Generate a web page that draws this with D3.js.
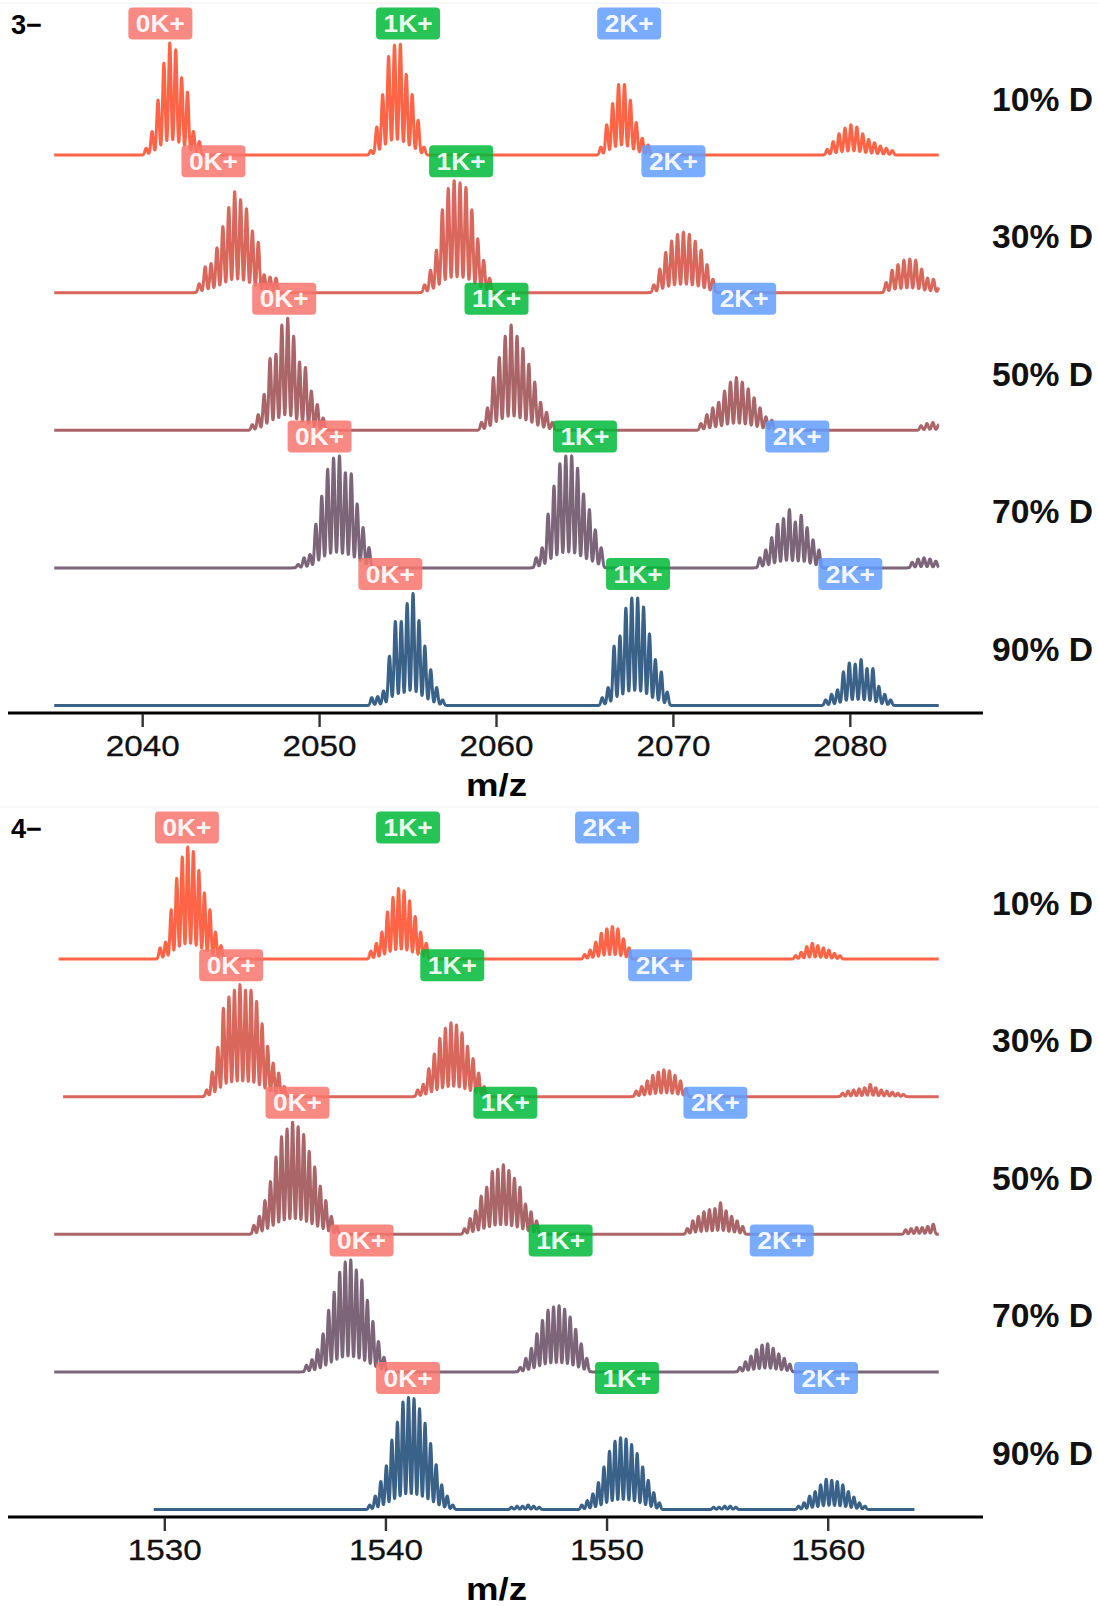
<!DOCTYPE html>
<html>
<head>
<meta charset="utf-8">
<script src="https://cdn.jsdelivr.net/npm/d3@7"></script>
<style>
  body { margin: 0; background: #fff; }
  svg { display: block; font-family: "Liberation Sans", Arial, sans-serif; }
</style>
</head>
<body>
<svg id="chart" width="1099" height="1606"></svg>
<script>
// deuteration levels, one trace per level
const levels = ["10% D", "30% D", "50% D", "70% D", "90% D"];
const traceColors = ["#FF6446", "#D9675B", "#AA6569", "#7C6579", "#3A6289"];

const adducts = ["0K+", "1K+", "2K+"];
const adductColors = ["#F8766D", "#00BA38", "#619CFF"];

// 3- charge state
const ticks3 = [2040, 2050, 2060, 2070, 2080];
const spectrumRange3 = [[2035, 2085], [2035, 2085], [2035, 2085], [2035, 2085], [2035, 2085]];
const labelPos3 = [
  [2041, 2055, 2067.5],
  [2044, 2058, 2070],
  [2048, 2060, 2074],
  [2050, 2065, 2077],
  [2054, 2068, 2080]
];
// isotope clusters per level: [first m/z, relative stick intensities (%)]
const peaks3 = [
  [[2040.2, [6, 21, 49, 82, 100, 94, 69, 56, 21, 12]],
   [2052.9, [4, 25, 54, 88, 98, 99, 72, 54, 31, 7]],
   [2065.9, [7, 27, 46, 63, 63, 49, 29, 15, 9]],
   [2078.7, [5, 12, 19, 24, 27, 25, 19, 14, 11, 8, 6, 4]]],
  [[2043.2, [8, 23, 26, 40, 59, 76, 90, 83, 75, 55, 45, 16, 14, 13]],
   [2055.94, [7, 20, 38, 74, 93, 100, 98, 94, 74, 48, 29, 13]],
   [2068.9, [7, 21, 36, 46, 52, 54, 52, 46, 38, 25, 12]],
   [2082.03, [9, 20, 25, 29, 30, 29, 21, 13, 12, 5]]],
  [[2046.2, [5, 14, 32, 64, 68, 94, 100, 84, 61, 56, 35, 23, 11]],
   [2059.16, [7, 20, 47, 65, 84, 94, 84, 73, 59, 43, 25, 16, 7]],
   [2071.56, [6, 14, 20, 25, 35, 43, 47, 43, 37, 29, 20, 12, 9]],
   [2084.0, [4, 6, 7, 5]]],
  [[2048.79, [3, 9, 12, 39, 64, 88, 98, 100, 85, 84, 57, 36, 18]],
   [2062.25, [9, 18, 48, 73, 93, 100, 100, 89, 66, 52, 34, 18]],
   [2074.89, [9, 16, 27, 39, 44, 52, 41, 47, 36, 25, 16]],
   [2083.5, [5, 8, 9, 8, 6]]],
  [[2052.95, [7, 8, 13, 44, 75, 75, 91, 100, 76, 53, 32, 16, 5]],
   [2065.98, [7, 16, 53, 62, 87, 96, 96, 88, 64, 41, 30, 12]],
   [2078.61, [5, 10, 14, 30, 38, 37, 41, 33, 33, 17, 10, 5]]]
];

// 4- charge state
const ticks4 = [1530, 1540, 1550, 1560];
const spectrumRange4 = [[1525.2, 1565], [1525.4, 1565], [1525, 1565], [1525, 1565], [1529.5, 1563.9]];
const labelPos4 = [
  [1531, 1541, 1550],
  [1533, 1543, 1552.4],
  [1536, 1545.4, 1554.9],
  [1538.9, 1547.9, 1557.9],
  [1541, 1550.9, 1559.9]
];
const peaks4 = [
  [[1529.79, [10, 15, 44, 72, 91, 100, 96, 79, 59, 44, 24, 12]],
   [1539.32, [7, 14, 24, 42, 55, 63, 61, 52, 38, 24, 14]],
   [1548.99, [4, 8, 15, 23, 27, 29, 27, 18, 10]],
   [1558.53, [3, 6, 11, 14, 12, 10, 8, 5, 3]]],
  [[1531.9, [6, 22, 44, 79, 89, 95, 100, 95, 95, 85, 65, 45, 30, 21, 9]],
   [1541.44, [6, 11, 25, 38, 52, 61, 66, 64, 57, 45, 34, 21, 9]],
   [1551.32, [5, 9, 14, 19, 22, 24, 23, 19, 14, 7]],
   [1560.65, [3, 5, 6, 7, 8, 11, 8, 6, 5, 4, 3, 2]]],
  [[1534.03, [8, 16, 30, 47, 69, 87, 94, 100, 96, 89, 74, 60, 43, 30, 16, 7]],
   [1543.56, [5, 14, 21, 34, 42, 56, 58, 62, 57, 50, 42, 27, 20, 12]],
   [1553.63, [5, 12, 16, 20, 22, 23, 28, 21, 16, 12, 7]],
   [1563.5, [4, 5, 6, 6, 7, 9]]],
  [[1536.41, [6, 11, 20, 34, 55, 71, 89, 98, 100, 91, 82, 64, 45, 27, 13]],
   [1546.08, [4, 12, 21, 34, 46, 55, 58, 59, 56, 49, 38, 25, 12]],
   [1556.01, [4, 9, 14, 20, 24, 25, 21, 16, 12, 7]]],
  [[1539.27, [4, 12, 25, 39, 62, 78, 96, 100, 99, 90, 77, 59, 40, 22, 12, 4]],
   [1545.68, [2, 3, 3, 4, 3, 2]],
   [1548.86, [4, 8, 14, 24, 38, 52, 61, 64, 63, 58, 50, 38, 26, 15, 6]],
   [1554.82, [2, 2, 3, 3, 2]],
   [1558.66, [3, 6, 12, 16, 22, 27, 26, 25, 22, 16, 11, 6, 3]]]
];

const panels = [
  { tag: "3\u2212", charge: 3, top: 0, ticks: ticks3, ranges: spectrumRange3, peaks: peaks3, labels: labelPos3 },
  { tag: "4\u2212", charge: 4, top: 804, ticks: ticks4, ranges: spectrumRange4, peaks: peaks4, labels: labelPos4 }
];

const svg = d3.select("#chart");
const plotX = [10, 983];
const peakHeight = 112;

// thin frame lines at the top of each panel
panels.forEach(p => {
  svg.append("line")
    .attr("x1", 0).attr("x2", 1099)
    .attr("y1", p.top + 3).attr("y2", p.top + 3)
    .attr("stroke", "#eeeeee").attr("stroke-width", 1);
});

function drawPanel(p) {
  const g = svg.append("g").attr("transform", `translate(0,${p.top})`);

  const lo = d3.min(p.ranges, d => d[0]);
  const hi = d3.max(p.ranges, d => d[1]);
  const pad = (hi - lo) * 0.05;
  const x = d3.scaleLinear().domain([lo - pad, hi + pad]).range(plotX);
  const row = d3.scalePoint().domain(levels).range([155, 705.5]);

  const spacing = 1 / p.charge;
  const sigma = spacing / 4.6;

  // spectra
  levels.forEach((lev, i) => {
    const base = row(lev);
    const y = d3.scaleLinear().domain([0, 100]).range([base, base - peakHeight]);
    const sticks = [];
    p.peaks[i].forEach(([start, hs]) => {
      hs.forEach((h, k) => sticks.push([start + k * spacing, h]));
    });
    const grid = d3.range(p.ranges[i][0], p.ranges[i][1] + 0.005, 0.01);
    const profile = grid.map(mz => {
      let v = 0;
      sticks.forEach(([c, h]) => {
        const d = mz - c;
        if (Math.abs(d) < 6 * sigma) v += h * Math.exp(-d * d / (2 * sigma * sigma));
      });
      return [mz, v];
    });
    g.append("path")
      .datum(profile)
      .attr("fill", "none")
      .attr("stroke", traceColors[i])
      .attr("stroke-width", 3)
      .attr("stroke-linejoin", "round")
      .attr("d", d3.line().x(d => x(d[0])).y(d => y(d[1])));

    g.append("text")
      .attr("x", 1093)
      .attr("y", base - 44.5)
      .attr("text-anchor", "end")
      .attr("font-size", 33)
      .attr("font-weight", "bold")
      .attr("textLength", 101)
      .attr("lengthAdjust", "spacingAndGlyphs")
      .attr("fill", "#111")
      .text(lev);
  });

  // adduct labels
  levels.forEach((lev, i) => {
    const cy = row(lev) - 131.5;
    p.labels[i].forEach((mz, j) => {
      const lab = g.append("g").attr("transform", `translate(${x(mz)},${cy})`);
      lab.append("rect")
        .attr("x", -32).attr("y", -16)
        .attr("width", 64).attr("height", 32)
        .attr("rx", 4)
        .attr("fill", adductColors[j])
        .attr("fill-opacity", 0.85);
      lab.append("text")
        .attr("y", 8.5)
        .attr("text-anchor", "middle")
        .attr("font-size", 24)
        .attr("font-weight", "bold")
        .attr("textLength", 49)
        .attr("lengthAdjust", "spacingAndGlyphs")
        .attr("fill", "#fff")
        .attr("fill-opacity", 0.92)
        .text(adducts[j]);
    });
  });

  // x axis
  const axisY = 713;
  g.append("line")
    .attr("x1", 8).attr("x2", 983)
    .attr("y1", axisY).attr("y2", axisY)
    .attr("stroke", "#000").attr("stroke-width", 3);

  const tick = g.selectAll(".tick").data(p.ticks).enter().append("g")
    .attr("transform", d => `translate(${x(d)},${axisY})`);
  tick.append("line")
    .attr("y1", 1).attr("y2", 14)
    .attr("stroke", "#333").attr("stroke-width", 2.4);
  tick.append("text")
    .attr("y", 43)
    .attr("text-anchor", "middle")
    .attr("font-size", 29)
    .attr("textLength", 74)
    .attr("lengthAdjust", "spacingAndGlyphs")
    .attr("fill", "#111")
    .attr("stroke", "#111")
    .attr("stroke-width", 0.3)
    .text(d => d);

  g.append("text")
    .attr("x", (plotX[0] + plotX[1]) / 2)
    .attr("y", 796)
    .attr("text-anchor", "middle")
    .attr("font-size", 31)
    .attr("font-weight", "bold")
    .attr("textLength", 61)
    .attr("lengthAdjust", "spacingAndGlyphs")
    .attr("fill", "#000")
    .text("m/z");

  g.append("text")
    .attr("x", 11)
    .attr("y", 34.3)
    .attr("font-size", 27)
    .attr("font-weight", "bold")
    .attr("textLength", 31)
    .attr("lengthAdjust", "spacingAndGlyphs")
    .attr("fill", "#000")
    .text(p.tag);
}

panels.forEach(drawPanel);
</script>
</body>
</html>
